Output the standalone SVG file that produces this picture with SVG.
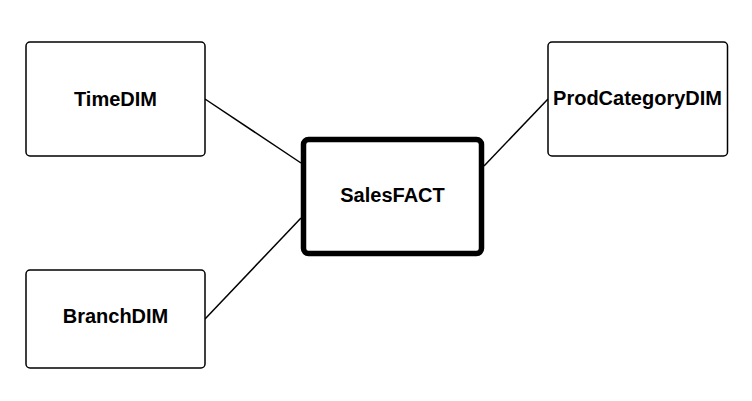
<svg xmlns="http://www.w3.org/2000/svg" width="752" height="401" viewBox="0 0 752 401">
<style>
.node rect{fill:#fff;stroke:#000;stroke-width:1.5}
.fact rect{fill:#fff;stroke:#000;stroke-width:5.5}
text{font-family:"Liberation Sans",Arial,sans-serif;font-weight:bold;font-size:20px;text-anchor:middle;fill:#000}
.conn line{stroke:#000;stroke-width:1.5}
</style>
<rect width="752" height="401" fill="#fff"/>
<g class="conn" id="connectors">
<line x1="205" y1="99" x2="301" y2="163"/>
<line x1="205" y1="319" x2="301" y2="218"/>
<line x1="548" y1="99" x2="484" y2="166"/>
</g>
<g class="node" id="TimeDIM"><rect x="26" y="42" width="179" height="114" rx="4"/><text x="115.5" y="106">TimeDIM</text></g>
<g class="node" id="BranchDIM"><rect x="26" y="270" width="179" height="98" rx="4"/><text x="115.5" y="323">BranchDIM</text></g>
<g class="node" id="ProdCategoryDIM"><rect x="548" y="42" width="179.5" height="114" rx="4"/><text x="637.5" y="105">ProdCategoryDIM</text></g>
<g class="fact" id="SalesFACT"><rect x="303.5" y="139.5" width="178" height="114" rx="5"/><text x="392.5" y="202">SalesFACT</text></g>
</svg>
